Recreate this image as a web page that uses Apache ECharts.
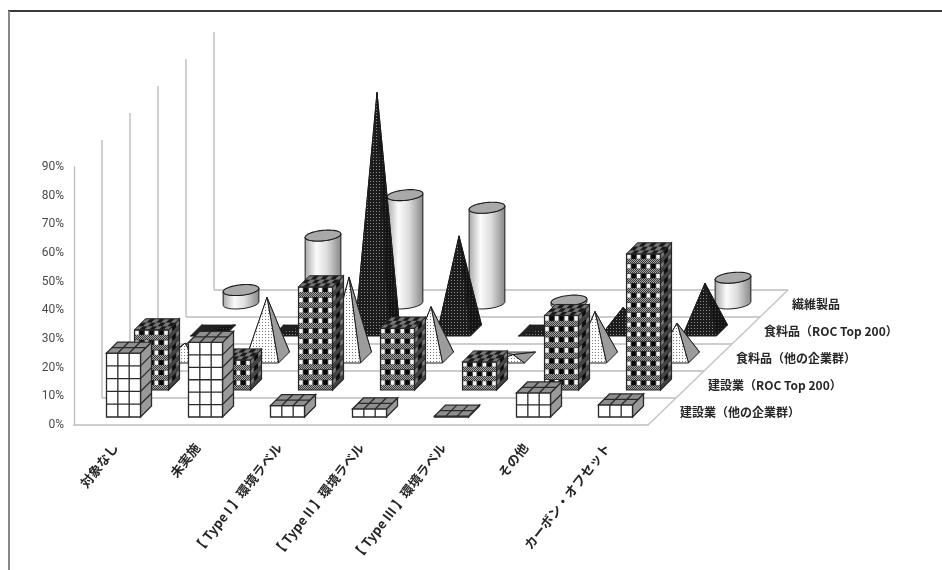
<!DOCTYPE html>
<html>
<head>
<meta charset="utf-8">
<style>html,body{margin:0;padding:0;background:#fff}#chart{width:942px;height:570px}</style>
<script src="https://cdn.jsdelivr.net/npm/echarts@6/dist/echarts.min.js"></script>
</head>
<body>
<div id="chart"></div>
<script>
// Environmental-label adoption by industry group, drawn as a stepped 3D column chart.
const categories = ['対象なし', '未実施', '【 Type I 】環境ラベル', '【 Type II 】環境ラベル', '【 Type III 】環境ラベル', 'その他', 'カーボン・オフセット'];
const rowNames = ['建設業（他の企業群）', '建設業（ROC Top 200）', '食料品（他の企業群）', '食料品（ROC Top 200）', '繊維製品'];
const constructionOther = [22.3, 26, 4, 2.8, 0.3, 8.4, 4.2];
const constructionTop = [21, 10.5, 36, 21.6, 9.8, 26, 47.5];
const foodOther = [5, 21, 28, 17.7, 1, 16, 12];
const foodTop = [1, 1, 83, 33, 0.5, 8, 16.5];
const textile = [4.7, 23.7, 37.8, 33.4, 1, 5, 9];
const valueTicks = { min: 0, max: 90, step: 10 };

// Oblique projection of the depth axis: screen shift per row, and column footprint.
const STEP_X = 28, STEP_Y = 27, COL_W = 34, COL_D = 11;

function tile(size, paint) {
  const c = document.createElement('canvas');
  c.width = c.height = size;
  paint(c.getContext('2d'));
  return { image: c, repeat: 'repeat' };
}
const whiteDots = tile(3, g => { g.fillStyle = '#fff'; g.fillRect(0, 0, 3, 3); g.fillStyle = '#777'; g.fillRect(1, 1, 1, 1); });
const blackDots = tile(3, g => { g.fillStyle = '#1c1c1c'; g.fillRect(0, 0, 3, 3); g.fillStyle = '#8c8c8c'; g.fillRect(1, 1, 1, 1); });
const blackDotsDim = tile(3, g => { g.fillStyle = '#141414'; g.fillRect(0, 0, 3, 3); g.fillStyle = '#484848'; g.fillRect(1, 1, 1, 1); });
const weave = tile(2, g => { g.fillStyle = '#a4a4a4'; g.fillRect(0, 0, 2, 2); g.fillStyle = '#3a3a3a'; g.fillRect(0, 0, 1, 1); g.fillRect(1, 1, 1, 1); });

// Projector for one column: a,b in [-1,1] across the footprint, h is pixel height.
function projector(api, row, cat) {
  const origin = api.coord([cat, 0]);
  const gx = origin[0] + STEP_X * (row + 0.5);
  const gy = origin[1] - STEP_Y * (row + 0.5);
  return (a, b, h) => [gx + a * COL_W / 2 + b * COL_D / 2, gy - b * COL_D / 2 - (h || 0)];
}
function heightOf(api, v) {
  return api.coord([0, 0])[1] - api.coord([0, v])[1];
}
function poly(points, fill, stroke, lineWidth) {
  return { type: 'polygon', shape: { points }, style: { fill, stroke: stroke || null, lineWidth: lineWidth || 0 } };
}
function segment(p, q, stroke, lineWidth) {
  return { type: 'line', shape: { x1: p[0], y1: p[1], x2: q[0], y2: q[1] }, style: { stroke, lineWidth } };
}
// Bilinear cell on a parallelogram face defined by corner o and edges u, v.
function cell(o, u, v, s0, s1, t0, t1) {
  const at = (s, t) => [o[0] + u[0] * s + v[0] * t, o[1] + u[1] * s + v[1] * t];
  return [at(s0, t0), at(s1, t0), at(s1, t1), at(s0, t1)];
}
function faces(P, h) {
  const f = P(-1, -1, 0), fr = P(1, -1, 0), br = P(1, 1, 0), top = P(-1, -1, h), tr = P(1, 1, h);
  return {
    front: { o: f, u: [fr[0] - f[0], 0], v: [0, -h] },
    side: { o: fr, u: [br[0] - fr[0], br[1] - fr[1]], v: [0, -h] },
    top: { o: top, u: [fr[0] - f[0], 0], v: [tr[0] - P(1, -1, h)[0], tr[1] - P(1, -1, h)[1]] }
  };
}
function gridFace(face, fill, cols, rows, children) {
  const { o, u, v } = face;
  children.push(poly(cell(o, u, v, 0, 1, 0, 1), fill, '#2a2a2a', 1.3));
  for (let c = 1; c < cols; c++) {
    const s = c / cols;
    children.push(segment([o[0] + u[0] * s, o[1] + u[1] * s], [o[0] + u[0] * s + v[0], o[1] + u[1] * s + v[1]], '#2a2a2a', 1.3));
  }
  for (let r = 1; r < rows; r++) {
    const t = r / rows;
    children.push(segment([o[0] + v[0] * t, o[1] + v[1] * t], [o[0] + u[0] + v[0] * t, o[1] + u[1] + v[1] * t], '#2a2a2a', 1.3));
  }
}

// Plain gridded box.
function gridBox(row) {
  return function (params, api) {
    const cat = api.value(0), h = heightOf(api, api.value(1));
    const P = projector(api, row, cat), F = faces(P, h), children = [];
    const rows = Math.max(1, Math.round(h / 13));
    gridFace(F.side, '#9a9a9a', 1, rows, children);
    gridFace(F.front, '#fff', 3, rows, children);
    gridFace(F.top, '#8f8f8f', 3, 2, children);
    return { type: 'group', children };
  };
}

// Checkered box: rows of light and dark windows separated by woven bands.
function checkerBox(row) {
  return function (params, api) {
    const cat = api.value(0), h = heightOf(api, api.value(1));
    const P = projector(api, row, cat), F = faces(P, h), children = [];
    const rows = Math.max(1, Math.round(h / 10));
    const draw = (face, base, band, light, dark, cols) => {
      const { o, u, v } = face;
      children.push(poly(cell(o, u, v, 0, 1, 0, 1), base));
      for (let r = 0; r < rows; r++) {
        const t0 = r / rows, tm = (r + 0.5) / rows, t1 = (r + 1) / rows;
        children.push(poly(cell(o, u, v, 0, 1, t0, tm), band));
        for (let c = 0; c < cols; c++) {
          const inset = 0.12 / cols;
          children.push(poly(cell(o, u, v, c / cols + inset, (c + 1) / cols - inset, tm, t1 - 0.06 / rows), c % 2 ? dark : light));
        }
      }
      children.push(poly(cell(o, u, v, 0, 1, 0, 1), 'rgba(0,0,0,0)', '#262626', 1.2));
    };
    draw(F.side, '#202020', '#444', '#7c7c7c', '#0c0c0c', 3);
    draw(F.front, '#2c2c2c', weave, '#f4f4f4', '#060606', 7);
    const { o, u, v } = F.top;
    children.push(poly(cell(o, u, v, 0, 1, 0, 1), '#555'));
    for (let r = 0; r < 3; r++) {
      for (let c = 0; c < 7; c++) {
        children.push(poly(cell(o, u, v, c / 7, (c + 1) / 7, r / 3, (r + 1) / 3), (r + c) % 2 ? '#1a1a1a' : '#777'));
      }
    }
    children.push(poly(cell(o, u, v, 0, 1, 0, 1), 'rgba(0,0,0,0)', '#262626', 1));
    return { type: 'group', children };
  };
}

// Four-sided pyramid with the apex over the footprint centre.
function pyramid(row, frontFill, sideFill, backFill) {
  return function (params, api) {
    const cat = api.value(0), h = heightOf(api, api.value(1));
    const P = projector(api, row, cat), apex = P(0, 0, h);
    const fl = P(-1, -1), fr = P(1, -1), br = P(1, 1), bl = P(-1, 1);
    return {
      type: 'group',
      children: [
        poly([bl, br, apex], backFill, '#1c1c1c', 0.8),
        poly([fl, bl, apex], backFill, '#1c1c1c', 0.8),
        poly([fr, br, apex], sideFill, '#1c1c1c', 1),
        poly([fl, fr, apex], frontFill, '#1c1c1c', 1)
      ]
    };
  };
}

// Cylinder built from the projected circle so that its ends tilt with the floor.
function cylinder(row) {
  const body = new echarts.graphic.LinearGradient(0, 0, 1, 0, [
    { offset: 0, color: '#a6a6a6' },
    { offset: 0.32, color: '#fbfbfb' },
    { offset: 0.6, color: '#dedede' },
    { offset: 1, color: '#868686' }
  ]);
  return function (params, api) {
    const cat = api.value(0), h = heightOf(api, api.value(1));
    const P = projector(api, row, cat);
    const turn = Math.atan2(COL_D, COL_W), n = 28;
    const lower = [];
    for (let i = 0; i <= n; i++) lower.push(turn + Math.PI + Math.PI * i / n);
    const bottom = lower.map(t => P(Math.cos(t), Math.sin(t), 0));
    const topArc = lower.slice().reverse().map(t => P(Math.cos(t), Math.sin(t), h));
    const rim = [];
    for (let i = 0; i < 2 * n; i++) { const t = Math.PI * i / n; rim.push(P(Math.cos(t), Math.sin(t), h)); }
    return {
      type: 'group',
      children: [poly(bottom.concat(topArc), body, '#1c1c1c', 1), poly(rim, '#a9a9a9', '#1c1c1c', 1.1)]
    };
  };
}

// Side walls and floor lines, one of each per depth level.
function renderFloor(params, api) {
  const level = api.value(0);
  const band = api.size([1, 0])[0];
  const base = api.coord([0, 0]);
  const left = base[0] - band / 2 + STEP_X * level, right = left + band * categories.length;
  const y = base[1] - STEP_Y * level;
  const wall = heightOf(api, valueTicks.max);
  return {
    type: 'group',
    children: [
      segment([left, y], [right, y], '#bdbdc2', 1.6),
      segment([left, y], [left, y - wall], '#bdbdc2', 1.4)
    ]
  };
}
function renderFloorEdge(params, api) {
  const band = api.size([1, 0])[0];
  const base = api.coord([0, 0]);
  const x = base[0] - band / 2 + band * categories.length;
  return segment([x, base[1]], [x + STEP_X * (rowNames.length), base[1] - STEP_Y * rowNames.length], '#c4c4c8', 1.4);
}
function renderRowName(params, api) {
  const row = api.value(0);
  const band = api.size([1, 0])[0];
  const base = api.coord([0, 0]);
  const x = base[0] - band / 2 + band * categories.length + 32 + STEP_X * row;
  return {
    type: 'text',
    x,
    y: base[1] - 13 - STEP_Y * row,
    style: {
      text: rowNames[row],
      fill: '#262626',
      font: '700 12px "Noto Sans CJK JP"',
      textAlign: 'left',
      textVerticalAlign: 'middle'
    }
  };
}

const toPairs = values => values.map((v, i) => [i, v]);
const customSeries = (data, renderItem, z) => ({ type: 'custom', coordinateSystem: 'cartesian2d', data, renderItem, z, clip: false, silent: true, animation: false, encode: { x: 0, y: 1 } });

const chart = echarts.init(document.getElementById('chart'), null, { renderer: 'canvas' });
chart.setOption({
  animation: false,
  backgroundColor: '#fff',
  grid: { left: 74, right: 294, top: 167, bottom: 145 },
  xAxis: {
    type: 'category',
    data: categories,
    axisLine: { lineStyle: { color: '#bdbdc2', width: 1.6 } },
    axisTick: { show: false },
    axisLabel: { interval: 0, rotate: 52, margin: 20, fontSize: 13, color: '#262626', fontFamily: '"Noto Sans CJK JP"', fontWeight: 700 }
  },
  yAxis: {
    type: 'value',
    min: valueTicks.min,
    max: valueTicks.max,
    interval: valueTicks.step,
    splitLine: { show: false },
    axisTick: { show: false },
    axisLine: { show: true, lineStyle: { color: '#bdbdc2', width: 1.4 } },
    axisLabel: { formatter: '{value}%', fontSize: 12, color: '#4a4a4a', margin: 10, fontFamily: 'Roboto', padding: [4, 0, 0, 0] }
  },
  graphic: [
    { type: 'line', shape: { x1: 8, y1: 11, x2: 942, y2: 11 }, style: { stroke: '#3a3a3a', lineWidth: 2 }, silent: true },
    { type: 'line', shape: { x1: 9, y1: 11, x2: 9, y2: 570 }, style: { stroke: '#888', lineWidth: 2 }, silent: true }
  ],
  series: [
    customSeries([[1], [2], [3], [4], [5]], renderFloor, 1),
    customSeries([[0]], renderFloorEdge, 1),
    customSeries([[0], [1], [2], [3], [4]], renderRowName, 1),
    customSeries(toPairs(textile), cylinder(4), 2),
    customSeries(toPairs(foodTop), pyramid(3, blackDots, blackDotsDim, '#222'), 3),
    customSeries(toPairs(foodOther), pyramid(2, whiteDots, '#9c9c9c', '#b5b5b5'), 4),
    customSeries(toPairs(constructionTop), checkerBox(1), 5),
    customSeries(toPairs(constructionOther), gridBox(0), 6)
  ]
});
</script>
</body>
</html>
